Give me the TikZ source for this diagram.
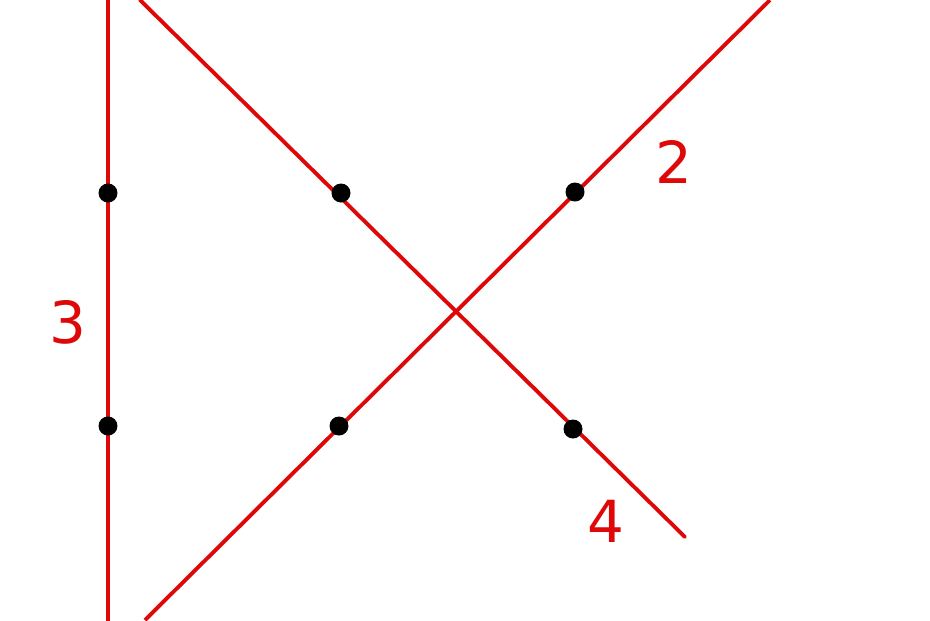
\documentclass[tikz,border=0pt]{standalone}
\usepackage{fontspec}
\setmainfont{DejaVu Sans}
\definecolor{lineRed}{RGB}{222,8,8}
\begin{document}
\begin{tikzpicture}[x=0.02cm, y=-0.02cm]
	\tikzstyle{line} = [lineRed, line width=2.2pt]
	\tikzstyle{Dot} = [circle, fill=black, inner sep=0pt, minimum size=0.38cm]
	\tikzstyle{Label} = [text=lineRed, font=\fontsize{33}{36}\selectfont]
	
	\useasboundingbox (0,0) rectangle (930,620);
	\clip (0,0) rectangle (930,620);
	
	\coordinate (vTop) at (108,-5);
	\coordinate (vBot) at (108,625);
	\coordinate (aTop) at (140,0);
	\coordinate (aBot) at (685,537);
	\coordinate (bBot) at (145,620);
	\coordinate (bTop) at (770,0);
	
	\draw [line] (vTop) -- (vBot);
	\draw [line, line cap=round] (aTop) -- (aBot);
	\draw [line] (bBot) -- (bTop);
	
	\node (d1) [Dot] at (108,193) {};
	\node (d2) [Dot] at (341,193) {};
	\node (d3) [Dot] at (575,192) {};
	\node (d4) [Dot] at (108,426) {};
	\node (d5) [Dot] at (339,426) {};
	\node (d6) [Dot] at (573,429) {};
	
	\node (l3) [Label] at (68,322) {3};
	\node (l2) [Label] at (674,162) {2};
	\node (l4) [Label] at (606,521) {4};
\end{tikzpicture}
\end{document}
